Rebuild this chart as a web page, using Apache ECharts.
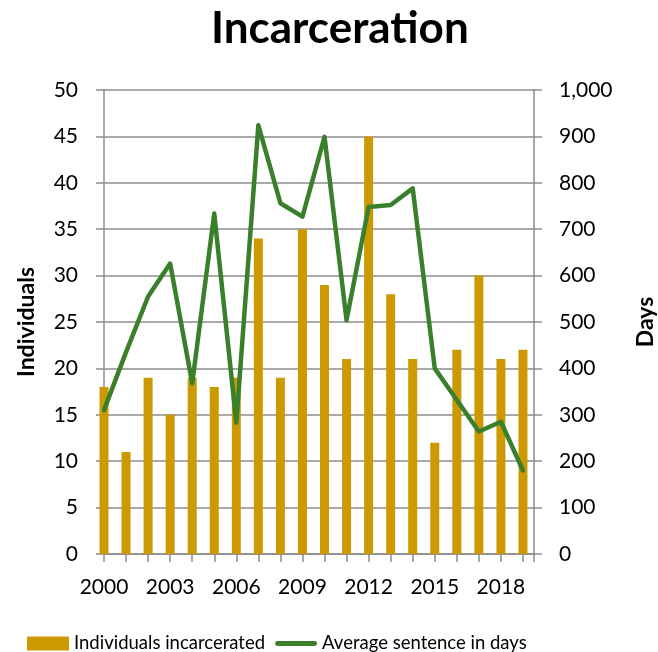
<!DOCTYPE html>
<html><head><meta charset="utf-8">
<script src="https://cdn.jsdelivr.net/npm/echarts@6/dist/echarts.min.js"></script>
<style>html,body{margin:0;padding:0;background:#fff}#c{width:658px;height:652px}</style>
</head><body><div id="c"></div>
<script>
const years = [2000,2001,2002,2003,2004,2005,2006,2007,2008,2009,2010,2011,2012,2013,2014,2015,2016,2017,2018,2019];
const individuals = [18,11,19,15,19,18,19,34,19,35,29,21,45,28,21,12,22,30,21,22];
const avgSentence = [310,435,555,626,368,734,283,924,756,727,899,504,748,752,788,400,332,264,285,180];
const xTickLabels = [2000,2003,2006,2009,2012,2015,2018];

const FONT = 'Lato';
const chart = echarts.init(document.getElementById('c'), null, {renderer:'canvas'});
const gridColor = '#8c8c8c';
chart.setOption({
  animation:false,
  textStyle:{fontFamily:FONT},
  title:{text:'Incarceration',left:206,top:2,textStyle:{fontFamily:FONT,fontSize:44,fontWeight:'bold',color:'#000'}},
  grid:{left:104,right:124,top:90,height:464,outerBoundsMode:'none',containLabel:false},
  legend:{top:629,left:22,itemWidth:42,itemHeight:14,itemGap:10,symbolKeepAspect:true,
    textStyle:{fontFamily:FONT,fontSize:18.5,color:'#000'},
    data:[{name:'Individuals incarcerated',icon:'rect'},
          {name:'Average sentence in days',icon:'path://M2.5,0 L41.5,0 A2.5,2.5 0 0 1 41.5,5 L2.5,5 A2.5,2.5 0 0 1 2.5,0 Z'}]},
  xAxis:{type:'value',min:2000,max:2019.5,interval:1,
    axisLine:{show:true,onZero:false,lineStyle:{color:gridColor,width:1.5}},
    axisTick:{show:true,length:8,lineStyle:{color:gridColor,width:1.5}},
    splitLine:{show:false},
    axisLabel:{margin:23,fontSize:21,color:'#000',fontFamily:FONT,
      formatter:v=>xTickLabels.indexOf(v)>=0?String(v):''}},
  yAxis:[
    {type:'value',min:0,max:50,interval:5,name:'Individuals',nameLocation:'middle',nameGap:66,
     nameTextStyle:{fontFamily:FONT,fontSize:23,fontWeight:'bold',color:'#000'},
     axisLine:{show:true,lineStyle:{color:gridColor,width:1.5}},
     axisTick:{show:true,length:8,lineStyle:{color:gridColor,width:1.5}},
     splitLine:{show:true,lineStyle:{color:gridColor,width:1.5}},
     axisLabel:{margin:26,fontSize:21,color:'#000',fontFamily:FONT}},
    {type:'value',min:0,max:1000,interval:100,name:'Days',nameLocation:'middle',nameGap:100,
     nameTextStyle:{fontFamily:FONT,fontSize:23,fontWeight:'bold',color:'#000'},
     axisLine:{show:true,lineStyle:{color:gridColor,width:1.5}},
     axisTick:{show:true,length:8,lineStyle:{color:gridColor,width:1.5}},
     splitLine:{show:false},
     axisLabel:{margin:25,fontSize:21,color:'#000',fontFamily:FONT,
       formatter:v=>v.toLocaleString('en-US')}}
  ],
  series:[
    {name:'Individuals incarcerated',type:'bar',yAxisIndex:0,barWidth:9,clip:true,
     itemStyle:{color:'#CC9A00'},
     data:years.map((y,i)=>[y,individuals[i]])},
    {name:'Average sentence in days',type:'line',yAxisIndex:1,symbol:'none',
     lineStyle:{color:'#3A7F2C',width:4.5,join:'round',cap:'round'},itemStyle:{color:'#3A7F2C'},
     data:years.map((y,i)=>[y,avgSentence[i]])}
  ]
});
</script></body></html>
